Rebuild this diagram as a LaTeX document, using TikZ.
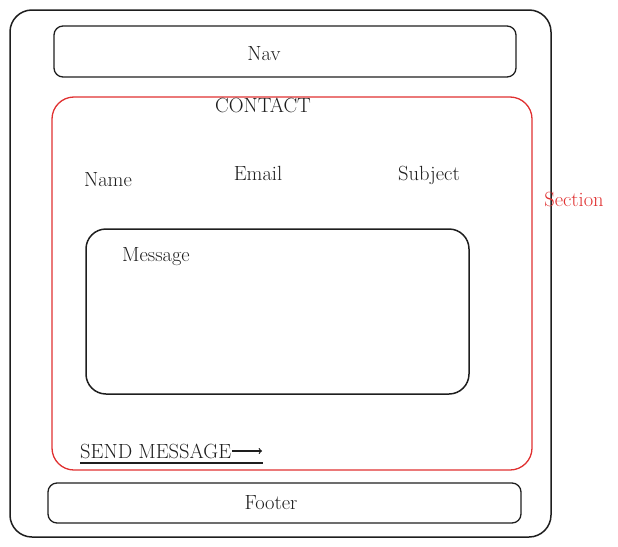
\documentclass[tikz,border=0pt]{standalone}
\usetikzlibrary{positioning}
\definecolor{ink}{HTML}{1E1E1E}
\definecolor{redink}{HTML}{E03131}
\tikzstyle{frame} = [draw=ink, line width=1.5pt, rounded corners=22pt, inner sep=0pt]
\tikzstyle{bar} = [draw=ink, line width=1.3pt, rounded corners=9pt, inner sep=0pt]
\tikzstyle{sect} = [draw=redink, line width=1.3pt, rounded corners=22pt, inner sep=0pt]
\tikzstyle{lbl} = [inner sep=1pt]
\tikzstyle{every node}=[font=\fontsize{20.5}{24}\selectfont, text=ink]

\begin{document}
\begin{tikzpicture}[x=1pt, y=-1pt]
  \useasboundingbox (0,0) rectangle (618,546);
  % page
  \node[frame, minimum width=541pt, minimum height=527pt] (page) at (280.5,273.5) {};
  \node[bar, minimum width=462pt, minimum height=51pt] (nav) at (285,51.5) {};
  \node[lbl] (navlbl) at (264,54) {Nav};
  \node[sect, minimum width=480pt, minimum height=373pt] (section) at (292,283.5) {};
  \node[lbl, text=redink] (seclbl) at (574,199) {Section};
  % contact form
  \node[lbl] (contact) at (263,105) {CONTACT};
  \node[lbl] (name) at (108,180) {Name};
  \node[lbl] (email) at (258,173) {Email};
  \node[lbl] (subject) at (429,175) {Subject};
  \node[frame, rounded corners=20pt, minimum width=383pt, minimum height=165pt] (msgbox) at (277.5,311.5) {};
  \node[lbl] (msg) at (156,257) {Message};
  \node[lbl, anchor=west] (send) at (79,451) {SEND MESSAGE};
  \coordinate (tip) at (262,451);
  \coordinate (ulstart) at (80,463);
  \coordinate (ulend) at (263,463);
  \draw[ink, line width=1.2pt, ->] (send.east) -- (tip);
  \draw[ink, line width=1.5pt] (ulstart) -- (ulend);
  % footer
  \node[bar, minimum width=473pt, minimum height=40pt] (footer) at (284.5,503) {};
  \node[lbl] (footlbl) at (271,503) {Footer};
\end{tikzpicture}
\end{document}
